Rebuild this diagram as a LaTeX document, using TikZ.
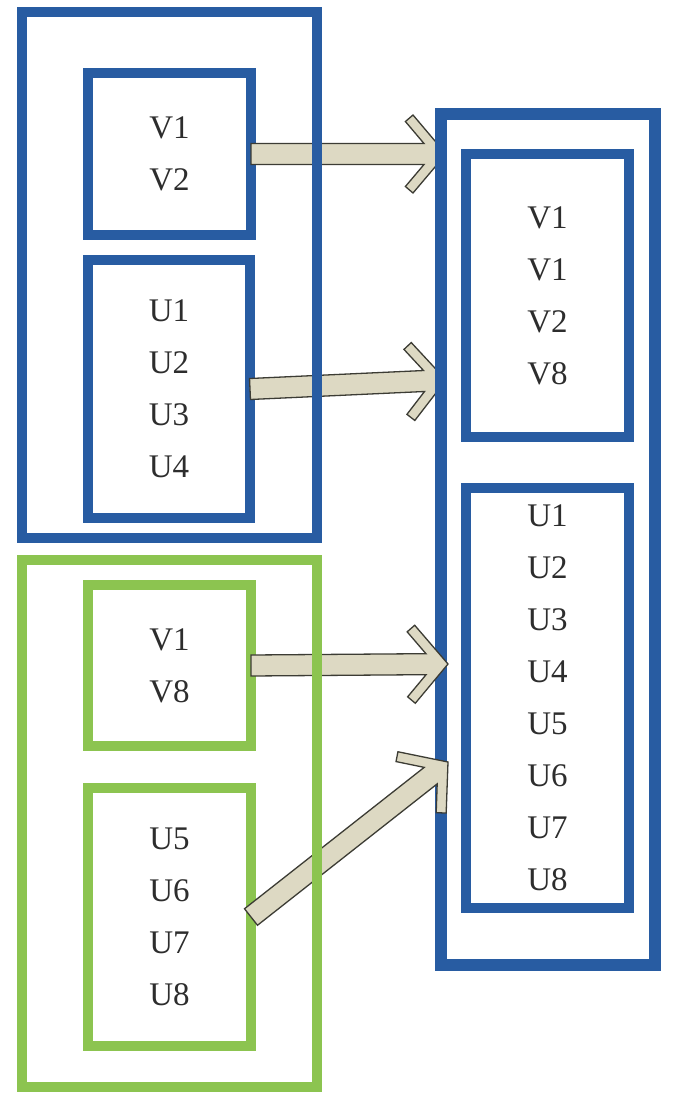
\documentclass[tikz,border=0pt]{standalone}
\usepackage{fontspec}
\setmainfont{Liberation Serif}
\usetikzlibrary{calc}
\definecolor{bblue}{RGB}{40,92,162}
\definecolor{bgreen}{RGB}{140,196,80}
\definecolor{afill}{RGB}{221,217,195}
\definecolor{aline}{RGB}{60,60,52}
\definecolor{txt}{RGB}{45,45,45}
\newcommand\fatarrow[2]{% #1 tail, #2 tip
  \draw[fatarrowsty]
    ($(#1)!10.5pt!90:(#2)$)
    -- ($(#2)!24.38pt!-25.51:(#1)$)
    -- ($(#2)!52pt!-38.68:(#1)$)
    -- ($(#2)!51.09pt!-49.76:(#1)$)
    -- (#2)
    -- ($(#2)!51.09pt!49.76:(#1)$)
    -- ($(#2)!52pt!38.68:(#1)$)
    -- ($(#2)!24.38pt!25.51:(#1)$)
    -- ($(#1)!10.5pt!-90:(#2)$)
    -- cycle;}
\begin{document}
\begin{tikzpicture}[x=1pt,y=1pt,
  box/.style={draw, rectangle, inner sep=0pt, outer sep=0pt, align=center,
    font=\fontsize{33}{52}\selectfont, text=txt},
  bluebox/.style={box, draw=bblue, line width=9.5pt},
  bigblue/.style={box, draw=bblue, line width=11.5pt},
  greenbox/.style={box, draw=bgreen, line width=9.5pt},
  fatarrowsty/.style={fill=afill, draw=aline, line width=1.3pt, line join=miter}]
\fill[white] (0,0) rectangle (686,-1106);
\useasboundingbox (0,0) rectangle (686,-1106);
% left inner boxes
\node[bluebox, minimum width=163, minimum height=162] (lv) at (169.5,-154) {V1\\V2};
\node[bluebox, minimum width=162, minimum height=258] (lu) at (169,-389) {U1\\U2\\U3\\U4};
\node[greenbox, minimum width=163, minimum height=161] (gv) at (169.5,-665.5) {V1\\V8};
\node[greenbox, minimum width=163, minimum height=258] (gu) at (169.5,-917) {U5\\U6\\U7\\U8};
% arrow ends
\coordinate (t1) at (446,-154);
\coordinate (t2) at (446,-380);
\coordinate (t3) at (448,-664);
\coordinate (t4) at (448,-762);
\fatarrow{lv.east}{t1}
\fatarrow{lu.east}{t2}
% right column
\node[bigblue, minimum width=214, minimum height=851] (R) at (548,-539.5) {};
\node[bluebox, line width=10pt, minimum width=163, minimum height=283] (rv) at (547.5,-295.5) {V1\\V1\\V2\\V8};
\node[bluebox, line width=10pt, minimum width=163, minimum height=420] (ru) at (547.5,-698) {U1\\U2\\U3\\U4\\U5\\U6\\U7\\U8};
\fatarrow{gv.east}{t3}
\fatarrow{gu.east}{t4}
% left outer boxes
\node[bluebox, minimum width=295, minimum height=526] (A) at (169.5,-275) {};
\node[greenbox, minimum width=295, minimum height=527] (G) at (169.5,-823.5) {};
\end{tikzpicture}
\end{document}
